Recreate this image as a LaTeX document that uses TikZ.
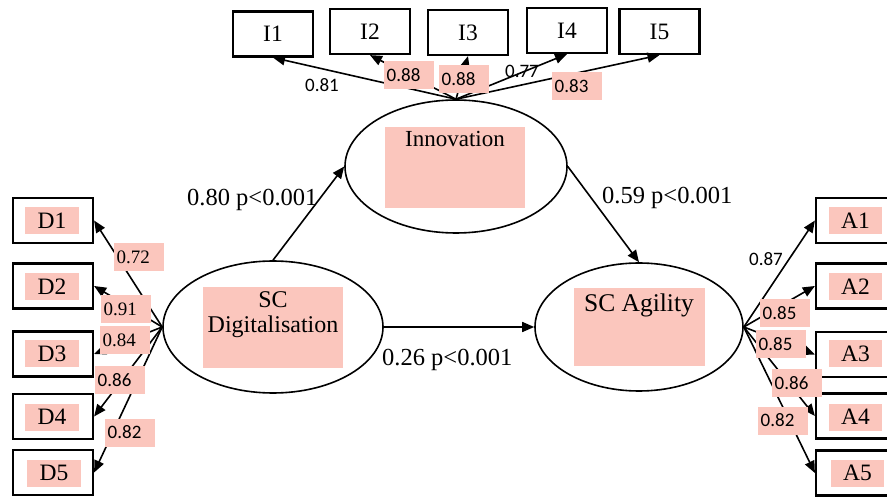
\documentclass[tikz,border=0pt]{standalone}
\usepackage{fontspec}
\setmainfont{Liberation Serif}
\newfontfamily\calfont{Carlito}
\usetikzlibrary{arrows.meta,shapes.geometric}
\definecolor{fcc6bc}{rgb}{0.984,0.776,0.741}

\begin{document}
\begin{tikzpicture}[x=1pt,y=-1pt,>={Triangle[length=12pt,width=10pt]},
  ind/.style={draw,line width=2.2pt,minimum width=80pt,minimum height=45pt,inner sep=0pt,font=\fontsize{23.5}{23.5}\selectfont},
  lat/.style={draw,ellipse,line width=1.6pt,inner sep=0pt},
  pk/.style={fill=fcc6bc,inner sep=0pt,font=\fontsize{23.5}{23.5}\selectfont},
  ld/.style={fill=fcc6bc,anchor=west,text width=45pt,inner xsep=2.5pt,inner ysep=0pt,minimum height=28pt,align=left,font=\calfont\fontsize{19}{19}\selectfont},
  ldrm/.style={ld,font=\fontsize{19}{19}\selectfont},
  lbl/.style={inner sep=0pt,font=\calfont\fontsize{19}{19}\selectfont},
  coef/.style={anchor=base west,inner sep=0pt,font=\fontsize{24.5}{24.5}\selectfont},
  arr/.style={->,line width=1.6pt}]
\useasboundingbox (0,0) rectangle (887,497);
\clip (0,0) rectangle (887,497);

% indicators of innovation
\node[ind] (i1) at (273,34) {I1};
\node[ind] (i2) at (370,31.5) {I2};
\node[ind] (i3) at (468,32.5) {I3};
\node[ind] (i4) at (567,30.5) {I4};
\node[ind] (i5) at (659.5,31.5) {I5};

% indicators of digitalisation
\node[ind] (d1) at (53,220.5) {};
\node[ind] (d2) at (53,286) {};
\node[ind] (d3) at (53,354) {};
\node[ind] (d4) at (53,416.5) {};
\node[ind] (d5) at (53,472.5) {};
\node[pk,minimum width=54pt,minimum height=27pt] (d1t) at (52,220.5) {D1};
\node[pk,minimum width=54pt,minimum height=27pt] (d2t) at (52,287) {D2};
\node[pk,minimum width=54pt,minimum height=27pt] (d3t) at (52,353.5) {D3};
\node[pk,minimum width=54pt,minimum height=27pt] (d4t) at (52,417) {D4};
\node[pk,minimum width=54pt,minimum height=27pt] (d5t) at (54,473) {D5};

% indicators of agility
\node[ind] (a1) at (856,220.5) {};
\node[ind] (a2) at (856,286) {};
\node[ind] (a3) at (856,354.5) {};
\node[ind] (a4) at (856,416) {};
\node[ind] (a5) at (856,473) {};
\node[pk,minimum width=53pt,minimum height=27pt] (a1t) at (855.5,220.5) {A1};
\node[pk,minimum width=53pt,minimum height=27pt] (a2t) at (855.5,286.5) {A2};
\node[pk,minimum width=53pt,minimum height=27pt] (a3t) at (855.5,353.5) {A3};
\node[pk,minimum width=53pt,minimum height=27pt] (a4t) at (855.5,417) {A4};
\node[pk,minimum width=53pt,minimum height=27pt] (a5t) at (857.5,473) {A5};

% latent constructs
\node[lat,minimum width=222pt,minimum height=133pt] (innov) at (456,166.5) {};
\node[pk,minimum width=140pt,minimum height=81pt] (innovbg) at (455,167.5) {};
\node[anchor=base,inner sep=0pt,font=\fontsize{23}{23}\selectfont] (innovtxt) at (455,147) {Innovation};

\node[lat,minimum width=220pt,minimum height=132pt] (dig) at (273,327) {};
\node[pk,minimum width=140pt,minimum height=81pt] (digbg) at (273,327.5) {};
\node[align=center,inner sep=0pt,font=\fontsize{24}{25}\selectfont] (digtxt) at (273,315) {SC\\Digitalisation};

\node[lat,minimum width=208pt,minimum height=128pt] (agil) at (639,327) {};
\node[pk,minimum width=131pt,minimum height=78pt] (agilbg) at (639.5,327) {};
\node[anchor=base,inner sep=0pt,font=\fontsize{25.5}{25.5}\selectfont] (agiltxt) at (639,312) {SC Agility};

% structural paths
\draw[arr] (dig.north) -- (innov.west);
\draw[arr] (innov.east) -- (agil.north);
\draw[arr] (dig.east) -- (agil.west);
\node[coef] (c1) at (187,206) {0.80 p<0.001};
\node[coef] (c2) at (602,204) {0.59 p<0.001};
\node[coef] (c3) at (382,366) {0.26 p<0.001};

% measurement paths
\draw[arr] (innov.north) -- (i1.south);
\draw[arr] (innov.north) -- (i2.south);
\draw[arr] (innov.north) -- (i3.south);
\draw[arr] (innov.north) -- (i4.south);
\draw[arr] (innov.north) -- (i5.south);
\draw[arr] (dig.west) -- (d1.east);
\draw[arr] (dig.west) -- (d2.east);
\draw[arr] (dig.west) -- (d3.east);
\draw[arr] (dig.west) -- (d4.east);
\draw[arr] (dig.west) -- (d5.east);
\draw[arr] (agil.east) -- (a1.west);
\draw[arr] (agil.east) -- (a2.west);
\draw[arr] (agil.east) -- (a3.west);
\draw[arr] (agil.east) -- (a4.west);
\draw[arr] (agil.east) -- (a5.west);

% loadings
\node[lbl] (li1) at (322,85) {0.81};
\node[ld] (li2) at (384,75) {0.88};
\node[ld] (li3) at (439,79) {0.88};
\node[lbl] (li4) at (522,71) {0.77};
\node[ld] (li5) at (552,86) {0.83};
\node[ldrm] (ld1) at (114,257) {0.72};
\node[ldrm] (ld2) at (101,309.5) {0.91};
\node[ldrm] (ld3) at (100,340) {0.84};
\node[ld] (ld4) at (95,380) {0.86};
\node[ld] (ld5) at (105,432.5) {0.82};
\node[lbl] (la1) at (766,259.5) {0.87};
\node[ld] (la2) at (760,313.5) {0.85};
\node[ld] (la3) at (756,344) {0.85};
\node[ld] (la4) at (772,383) {0.86};
\node[ld] (la5) at (758,420.5) {0.82};
\end{tikzpicture}
\end{document}
